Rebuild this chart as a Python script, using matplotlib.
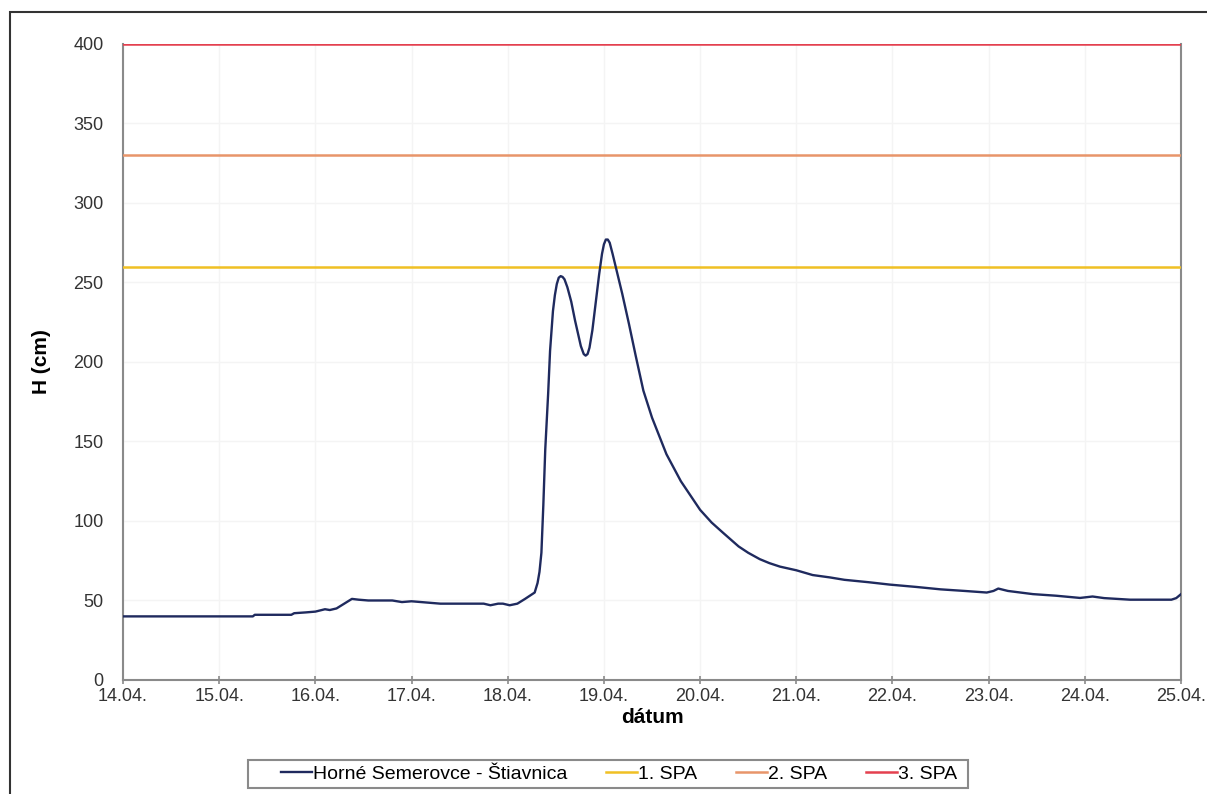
import numpy as np
import matplotlib
matplotlib.use('Agg')
import matplotlib.pyplot as plt
from matplotlib.patches import Rectangle

plt.rcParams['font.family'] = ['Liberation Sans', 'DejaVu Sans']

# dni od 14.04. a vodny stav H (cm), odcitane z grafu
t_days = [0.0, 1.35, 1.37, 1.75, 1.78, 1.9, 2.0, 2.1, 2.15, 2.22, 2.3, 2.38, 2.45, 2.55,
          2.8, 2.9, 3.0, 3.1, 3.3, 3.75, 3.82, 3.9, 3.95, 4.02, 4.1, 4.18, 4.23, 4.28,
          4.31, 4.33, 4.35, 4.37, 4.39, 4.42, 4.44, 4.47, 4.49, 4.51, 4.53, 4.55, 4.57,
          4.59, 4.62, 4.66, 4.70, 4.76, 4.79, 4.81, 4.83, 4.85, 4.88, 4.92, 4.95, 4.98,
          5.00, 5.02, 5.04, 5.06, 5.09, 5.13, 5.19, 5.26, 5.33, 5.41, 5.5, 5.65, 5.8,
          5.9, 6.0, 6.12, 6.24, 6.4, 6.5, 6.62, 6.72, 6.83, 7.0, 7.17, 7.35, 7.5, 7.75,
          7.97, 8.25, 8.5, 8.75, 8.98, 9.05, 9.10, 9.2, 9.46, 9.7, 9.95, 10.08, 10.2,
          10.47, 10.9, 10.95, 11.0]
h_cm = [40, 40, 41, 41, 42, 42.5, 43, 44.5, 44, 45, 48, 51, 50.5, 50,
        50, 49, 49.5, 49, 48, 48, 47, 48, 48, 47, 48, 51, 53, 55,
        61, 68, 80, 110, 145, 180, 207, 232, 242, 249, 253, 254, 253.5,
        252, 247, 238, 226, 210, 205, 204, 205, 209, 220, 240, 255, 268,
        274, 277, 277, 275, 268, 258, 243, 224, 204, 182, 165, 142, 125,
        116, 107, 99, 92.5, 84, 80, 76, 73.5, 71.3, 69, 66, 64.5, 63, 61.5,
        60, 58.5, 57, 56, 55, 56, 57.5, 56, 54, 53, 51.6, 52.5, 51.5,
        50.5, 50.5, 51.5, 54]

spa_levels = [260, 330, 400]
spa_names = ['1. SPA', '2. SPA', '3. SPA']
spa_colors = ['#f0c024', '#e8956a', '#e4404f']

date_labels = ['14.04.', '15.04.', '16.04.', '17.04.', '18.04.', '19.04.',
               '20.04.', '21.04.', '22.04.', '23.04.', '24.04.', '25.04.']
y_ticks = [0, 50, 100, 150, 200, 250, 300, 350, 400]

fig = plt.figure(figsize=(12.07, 7.94), dpi=100)
fig.patch.set_facecolor('white')
ax = fig.add_axes([0.1019, 0.1436, 0.8766, 0.801])

ax.plot(t_days, h_cm, color='#1f2a5e', lw=1.7, label='Horné Semerovce - Štiavnica', zorder=4)
for lvl, nm, c in zip(spa_levels, spa_names, spa_colors):
    ax.plot([0, len(date_labels) - 1], [lvl, lvl], color=c, lw=1.8, label=nm, zorder=3)

ax.set_xlim(0, len(date_labels) - 1)
ax.set_ylim(0, 400)
ax.set_xticks(range(len(date_labels)))
ax.set_xticklabels(date_labels)
ax.set_yticks(y_ticks)
ax.grid(True, color='#f4f4f4', lw=1)
ax.set_axisbelow(True)

for s in ['left', 'bottom', 'right']:
    ax.spines[s].set_color('#8a8a8a')
    ax.spines[s].set_linewidth(1.5)
ax.spines['top'].set_visible(False)
ax.tick_params(axis='x', direction='inout', length=6, width=1.2, color='#8a8a8a',
               labelsize=13, labelcolor='#333333', pad=3)
ax.tick_params(axis='y', length=0, labelsize=13, labelcolor='#333333', pad=14)

ax.set_xlabel('dátum', fontsize=15, fontweight='bold', labelpad=2)
ax.set_ylabel('H (cm)', fontsize=15, fontweight='bold', labelpad=16)

leg = fig.legend(loc='center', bbox_to_anchor=(0.513, 0.0252), ncol=4, fontsize=14,
                 frameon=False, handlelength=1.6, handletextpad=0.05,
                 columnspacing=2.0, borderpad=0.25)

# ramcek legendy
fig.patches.append(Rectangle((248 / 1207, (794 - 788) / 794), 720 / 1207, 28 / 794,
                             transform=fig.transFigure, fill=False,
                             edgecolor='#8a8a8a', lw=1.5))

# ram okolo celeho grafu
fig.patches.append(Rectangle((10 / 1207, -0.1), 1.2, 1.1 - 12 / 794, transform=fig.transFigure,
                             fill=False, edgecolor='#333333', lw=1.5))

fig.savefig('out.png', dpi=100)
